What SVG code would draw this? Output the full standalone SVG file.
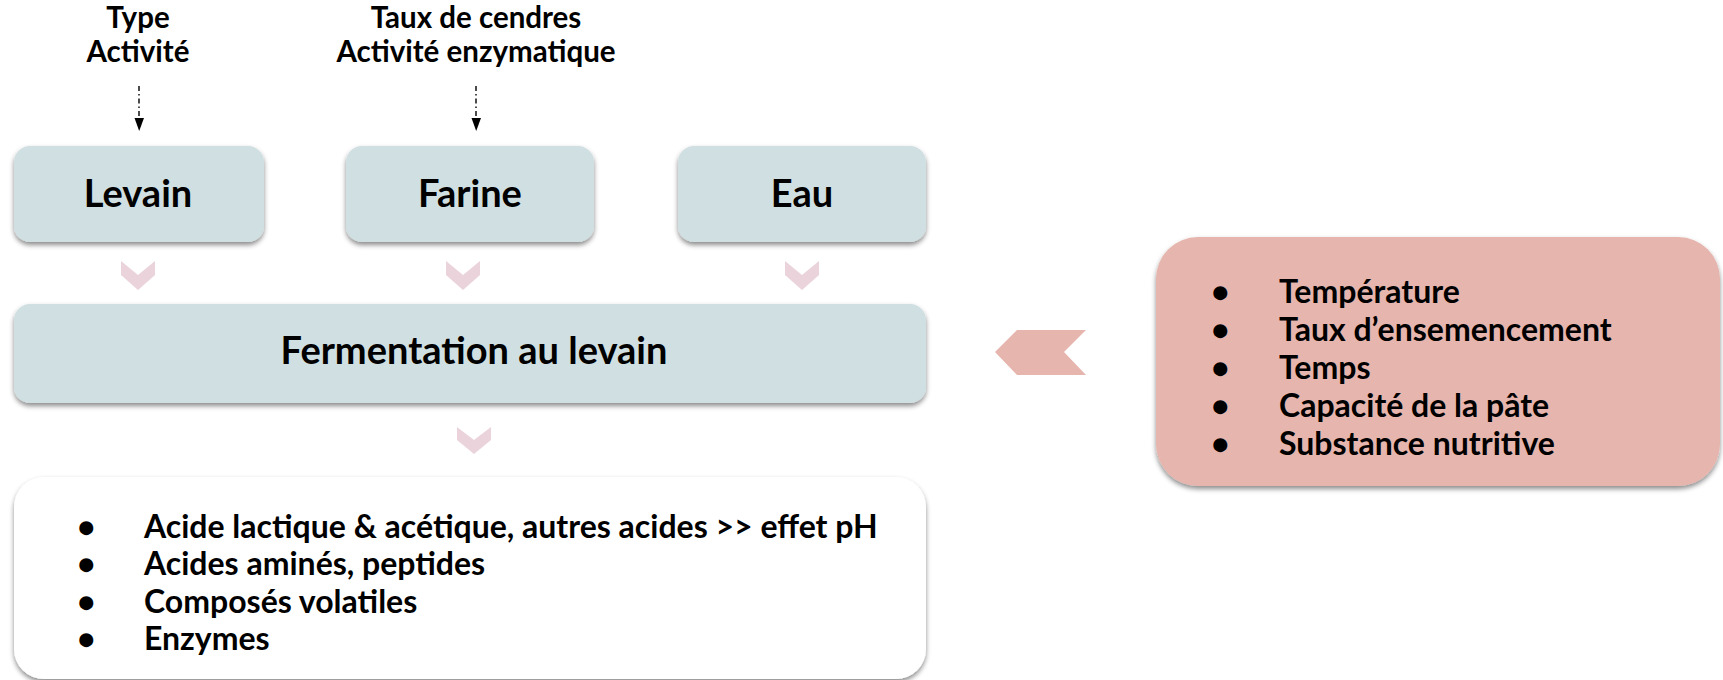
<svg xmlns="http://www.w3.org/2000/svg" width="1723" height="680" viewBox="0 0 1723 680">
<style>
text{font-family:Lato,"Liberation Sans",sans-serif;font-weight:bold;fill:#000}
.lbl{font-size:29.5px;text-anchor:middle}
.node{font-size:38px;text-anchor:middle}
.li{font-size:32px}
.bul{font-size:28px}
.box{fill:#D0DFE1;filter:url(#sh)}
.chev{fill:#EBD3DC}
.dash{stroke:#000;stroke-width:1.4;stroke-dasharray:5 3 1.5 3;fill:none}
</style>
<defs>
<filter id="sh" x="-10%" y="-20%" width="120%" height="150%">
<feDropShadow dx="0" dy="3" stdDeviation="2.5" flood-color="#000" flood-opacity="0.45"/>
</filter>
</defs>
<g id="label-levain">
<text class="lbl" x="138" y="28">Type</text>
<text class="lbl" x="138" y="62">Activité</text>
</g>
<g id="label-farine">
<text class="lbl" x="476" y="28">Taux de cendres</text>
<text class="lbl" x="476" y="62">Activité enzymatique</text>
</g>
<g id="connectors">
<line class="dash" x1="139" y1="86" x2="139" y2="116"/>
<path d="M134.5,118 L144,118 L139.2,131 Z" fill="#000"/>
<line class="dash" x1="476" y1="86" x2="476" y2="116"/>
<path d="M471.5,118 L481,118 L476.2,131 Z" fill="#000"/>
<path class="chev" d="M121,261 L138,275 L155,261 L155,275 L138,290 L121,275 Z"/>
<path class="chev" d="M446,261 L463,275 L480,261 L480,275 L463,290 L446,275 Z"/>
<path class="chev" d="M785,261 L802,275 L819,261 L819,275 L802,290 L785,275 Z"/>
<path class="chev" d="M457,427 L474,440 L491,427 L491,440 L474,454 L457,440 Z"/>
<path d="M995,352 L1017,330 L1086,330 L1064,352 L1086,375 L1017,375 Z" fill="#E6B5AD"/>
</g>
<g id="node-levain">
<rect class="box" x="14" y="146" width="250" height="96" rx="16"/>
<text class="node" x="138" y="207">Levain</text>
</g>
<g id="node-farine">
<rect class="box" x="346" y="146" width="248" height="96" rx="16"/>
<text class="node" x="470" y="207">Farine</text>
</g>
<g id="node-eau">
<rect class="box" x="678" y="146" width="248" height="96" rx="16"/>
<text class="node" x="802" y="207">Eau</text>
</g>
<g id="node-fermentation">
<rect class="box" x="14" y="304" width="912" height="99" rx="16"/>
<text class="node" x="474" y="364">Fermentation au levain</text>
</g>
<g id="node-produits">
<rect x="14" y="477" width="912" height="202" rx="30" fill="#fff" filter="url(#sh)"/>
<text class="bul" x="78" y="537">●</text><text class="li" x="144" y="538">Acide lactique &amp; acétique, autres acides &gt;&gt; effet pH</text>
<text class="bul" x="78" y="574">●</text><text class="li" x="144" y="575">Acides aminés, peptides</text>
<text class="bul" x="78" y="612">●</text><text class="li" x="144" y="613">Composés volatiles</text>
<text class="bul" x="78" y="649">●</text><text class="li" x="144" y="650">Enzymes</text>
</g>
<g id="node-facteurs">
<rect x="1156" y="237" width="564" height="249" rx="42" fill="#E6B5AD" filter="url(#sh)"/>
<text class="bul" x="1212" y="302">●</text><text class="li" x="1279" y="303">Température</text>
<text class="bul" x="1212" y="340">●</text><text class="li" x="1279" y="341">Taux d’ensemencement</text>
<text class="bul" x="1212" y="378">●</text><text class="li" x="1279" y="379">Temps</text>
<text class="bul" x="1212" y="416">●</text><text class="li" x="1279" y="417">Capacité de la pâte</text>
<text class="bul" x="1212" y="454">●</text><text class="li" x="1279" y="455">Substance nutritive</text>
</g>
</svg>
